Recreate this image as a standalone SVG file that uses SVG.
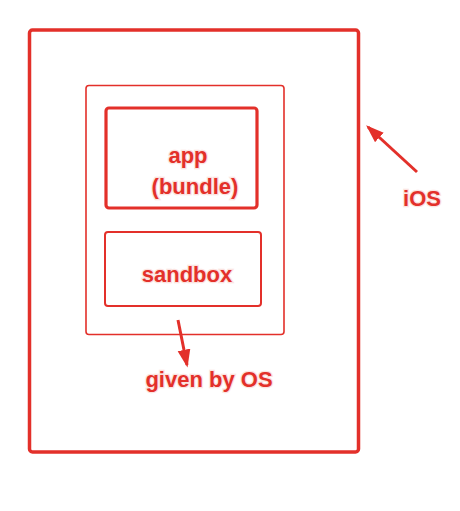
<svg xmlns="http://www.w3.org/2000/svg" width="460" height="511" viewBox="0 0 460 511">
<style>
.box{fill:none;stroke:#e3302a;stroke-linejoin:round}
.lbl{font-family:"Liberation Sans",Arial,sans-serif;font-weight:bold;font-size:22px;fill:#e3302a;stroke:#fbe3e0;stroke-width:2.5;paint-order:stroke;text-anchor:middle}
.arr{stroke:#e3302a;stroke-width:3;fill:none;marker-end:url(#ah)}
</style>
<defs>
<marker id="ah" viewBox="0 0 14 10" refX="12" refY="5" markerWidth="6" markerHeight="4.5" orient="auto" markerUnits="strokeWidth">
<path d="M0,0 L14,5 L0,10 z" fill="#e3302a"/>
</marker>
</defs>
<rect width="460" height="511" fill="#fff"/>
<g id="ios">
<rect class="box" x="29.5" y="30" width="329" height="422" rx="3" stroke-width="3.5"/>
<text class="lbl" x="422" y="206">iOS</text>
</g>
<g id="given">
<rect class="box" x="86" y="85.5" width="198" height="249" rx="3" stroke-width="1.6"/>
<text class="lbl" x="209" y="387">given by OS</text>
</g>
<g id="app">
<rect class="box" x="106" y="108" width="151" height="100" rx="3" stroke-width="3.2"/>
<text class="lbl" x="188" y="163">app</text>
<text class="lbl" x="195" y="194">(bundle)</text>
</g>
<g id="sandbox">
<rect class="box" x="105" y="232" width="156" height="74" rx="3" stroke-width="2"/>
<text class="lbl" x="187" y="282">sandbox</text>
</g>
<g id="connectors">
<line class="arr" x1="178" y1="320" x2="187" y2="365"/>
<line class="arr" x1="417" y1="172" x2="368" y2="127"/>
</g>
</svg>
